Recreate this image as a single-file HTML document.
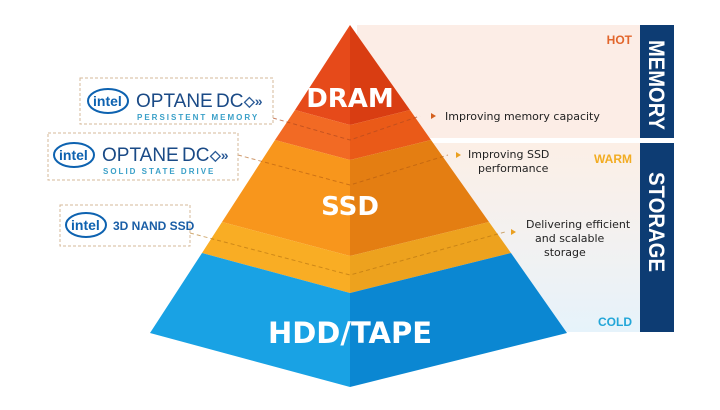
<!DOCTYPE html>
<html><head><meta charset="utf-8"><style>
body{margin:0;width:720px;height:405px;background:#fff;overflow:hidden;font-family:"Liberation Sans",sans-serif}
</style></head><body>
<svg width="720" height="405" viewBox="0 0 720 405" xmlns="http://www.w3.org/2000/svg">
<defs>
<linearGradient id="g2" x1="0" y1="0" x2="0" y2="1">
<stop offset="0" stop-color="#fcefe6"/><stop offset="0.5" stop-color="#f3f1f0"/><stop offset="1" stop-color="#e6f3fb"/>
</linearGradient>
</defs>
<rect x="357" y="25" width="283" height="113" fill="#fcede6"/>
<rect x="357" y="143" width="283" height="189" fill="url(#g2)"/>
<rect x="640" y="25" width="34" height="113" fill="#0d3c73"/>
<rect x="640" y="143" width="34" height="189" fill="#0d3c73"/>
<text transform="translate(649,40) rotate(90)" font-family="Liberation Sans Narrow,Liberation Sans,sans-serif" font-weight="bold" font-size="22" fill="#fff" textLength="90" lengthAdjust="spacingAndGlyphs">MEMORY</text>
<text transform="translate(649,172) rotate(90)" font-family="Liberation Sans Narrow,Liberation Sans,sans-serif" font-weight="bold" font-size="22" fill="#fff" textLength="100" lengthAdjust="spacingAndGlyphs">STORAGE</text>
<g font-family="Liberation Sans Narrow,Liberation Sans,sans-serif" font-weight="bold" font-size="12" text-anchor="end">
<text x="632" y="44" fill="#e2662c">HOT</text>
<text x="632" y="163" fill="#f2ac22">WARM</text>
<text x="632" y="326" fill="#22a6d8">COLD</text>
</g>
<!-- pyramid left face -->
<polygon points="350,25 295,110 350,125" fill="#e64a1a"/>
<polygon points="295,110 275,140 350,160 350,125" fill="#f26a24"/>
<polygon points="275,140 222,222 350,256 350,160" fill="#f8961c"/>
<polygon points="222,222 202,253 350,293 350,256" fill="#f9ad24"/>
<polygon points="202,253 150,333 350,387 350,293" fill="#19a2e4"/>
<!-- right face -->
<polygon points="350,25 410,110 350,125" fill="#d93d12"/>
<polygon points="410,110 431,140 350,160 350,125" fill="#ea5a18"/>
<polygon points="431,140 489,222 350,256 350,160" fill="#e47e12"/>
<polygon points="489,222 511,253 350,293 350,256" fill="#eda21e"/>
<polygon points="511,253 567,333 350,387 350,293" fill="#0b87d2"/>
<g font-weight="bold" fill="#fff" text-anchor="middle" font-family="DejaVu Sans,Liberation Sans,sans-serif">
<text x="350" y="107" font-size="26">DRAM</text>
<text x="350" y="215" font-size="26">SSD</text>
<text x="350" y="343" font-size="29">HDD/TAPE</text>
</g>
<!-- dashed connectors -->
<g fill="none" stroke-dasharray="4,3" stroke-width="1">
<polyline points="273,118 350,140 420,116" stroke="#b24a20" opacity="0.7"/>
<polyline points="238,155 350,185 448,155" stroke="#b05a10" opacity="0.6"/>
<polyline points="190,233 350,275 505,232" stroke="#b07010" opacity="0.6"/>
</g>
<polygon points="431,113 436,116 431,119" fill="#d4601e"/>
<polygon points="456,152 461,155 456,158" fill="#eaa020"/>
<polygon points="511,229 516,232 511,235" fill="#eaa020"/>
<g font-family="DejaVu Sans,Liberation Sans,sans-serif" font-size="11" fill="#222">
<text x="445" y="120">Improving memory capacity</text>
<text x="468" y="158">Improving SSD</text>
<text x="478" y="172">performance</text>
<text x="526" y="228">Delivering efficient</text>
<text x="535" y="242">and scalable</text>
<text x="544" y="256">storage</text>
</g>
<!-- left boxes -->
<g fill="#fff" stroke="#d6b89a" stroke-dasharray="3,2" stroke-width="1">
<rect x="80" y="78" width="193" height="46"/>
<rect x="48" y="133" width="190" height="47"/>
<rect x="60" y="205" width="130" height="41"/>
</g>
<g font-family="Liberation Sans,sans-serif" fill="#0d62b0">
<ellipse cx="108" cy="101" rx="20" ry="12" fill="none" stroke="#0d62b0" stroke-width="2"/>
<text x="93" y="106" font-size="14" font-weight="bold">intel</text>
<text x="136" y="107" font-size="19" fill="#1a4a86">OPTANE</text>
<text x="216" y="107" font-size="19" fill="#1a4a86">DC</text>
<text x="244" y="106" font-size="14" fill="#2a5a96" font-weight="bold">◇»</text>
<text x="137" y="120" font-size="8" fill="#3aa0c8" letter-spacing="2" font-weight="bold">PERSISTENT MEMORY</text>

<ellipse cx="74" cy="155" rx="20" ry="12" fill="none" stroke="#0d62b0" stroke-width="2"/>
<text x="59" y="160" font-size="14" font-weight="bold">intel</text>
<text x="102" y="161" font-size="19" fill="#1a4a86">OPTANE</text>
<text x="182" y="161" font-size="19" fill="#1a4a86">DC</text>
<text x="210" y="160" font-size="14" fill="#2a5a96" font-weight="bold">◇»</text>
<text x="103" y="174" font-size="8" fill="#3aa0c8" letter-spacing="2" font-weight="bold">SOLID STATE DRIVE</text>

<ellipse cx="86" cy="225" rx="20" ry="12" fill="none" stroke="#0d62b0" stroke-width="2"/>
<text x="71" y="230" font-size="14" font-weight="bold">intel</text>
<text x="113" y="230" font-size="12" font-weight="bold" font-family="Liberation Sans Narrow,Liberation Sans,sans-serif" fill="#1a5ea6">3D NAND SSD</text>
</g>
</svg>
</body></html>
